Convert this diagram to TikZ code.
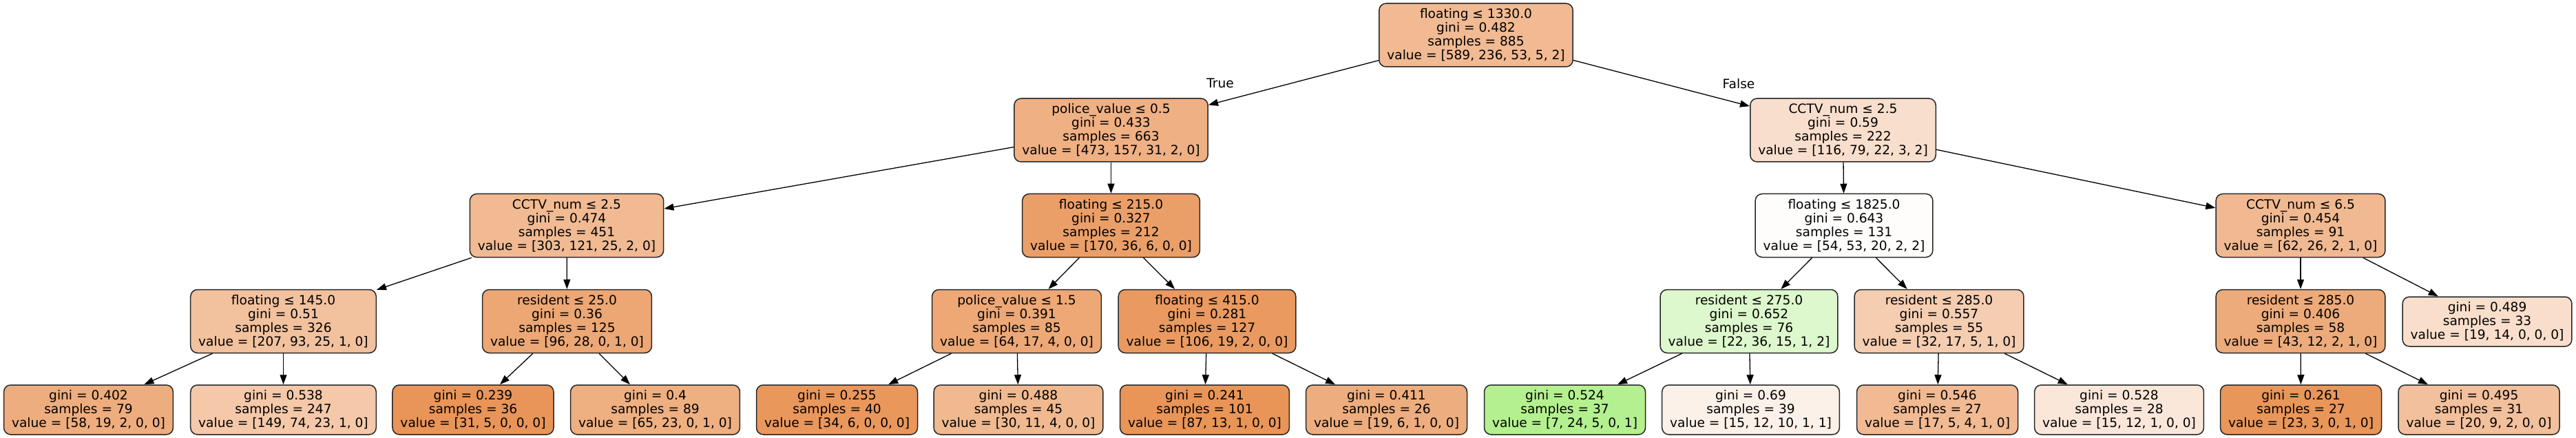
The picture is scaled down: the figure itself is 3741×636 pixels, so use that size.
\documentclass[tikz,border=0pt]{standalone}
\usepackage{fontspec}
\setmainfont{DejaVu Sans}
\usetikzlibrary{arrows.meta}
\newcommand\treefont{\fontsize{18.6}{20}\selectfont}
\definecolor{c0}{RGB}{241,186,147}
\definecolor{c1}{RGB}{239,176,131}
\definecolor{c2}{RGB}{248,222,204}
\definecolor{c3}{RGB}{241,186,146}
\definecolor{c4}{RGB}{235,159,104}
\definecolor{c5}{RGB}{255,253,252}
\definecolor{c6}{RGB}{241,185,145}
\definecolor{c7}{RGB}{242,193,158}
\definecolor{c8}{RGB}{237,167,116}
\definecolor{c9}{RGB}{237,168,118}
\definecolor{c10}{RGB}{234,154,96}
\definecolor{c11}{RGB}{221,248,204}
\definecolor{c12}{RGB}{245,205,177}
\definecolor{c13}{RGB}{237,170,122}
\definecolor{c14}{RGB}{248,222,203}
\definecolor{c15}{RGB}{238,173,126}
\definecolor{c16}{RGB}{244,200,169}
\definecolor{c17}{RGB}{233,149,89}
\definecolor{c18}{RGB}{238,175,129}
\definecolor{c19}{RGB}{234,151,92}
\definecolor{c20}{RGB}{240,185,144}
\definecolor{c21}{RGB}{233,149,88}
\definecolor{c22}{RGB}{238,173,126}
\definecolor{c23}{RGB}{180,240,143}
\definecolor{c24}{RGB}{252,241,233}
\definecolor{c25}{RGB}{241,186,147}
\definecolor{c26}{RGB}{250,231,218}
\definecolor{c27}{RGB}{233,150,90}
\definecolor{c28}{RGB}{242,192,156}
\tikzset{
  tbox/.style={draw=black!85, line width=1.5pt, rounded corners=10pt, align=center,
    inner xsep=11.5pt, inner ysep=0pt, font=\treefont},
  inode/.style={tbox, minimum height=92pt},
  lnode/.style={tbox, minimum height=72pt},
  tedge/.style={draw=black, line width=1.3pt, -{Triangle[length=14pt,width=10pt]}},
  elabel/.style={font=\treefont, inner sep=0pt}
}
\begin{document}
\begin{tikzpicture}[x=1pt,y=-1pt]
\useasboundingbox (0,0) rectangle (3741,636);
% level 1
\node[inode, fill=c0] (n0) at (2143.5,51) {floating ≤ 1330.0\\gini = 0.482\\samples = 885\\value = [589, 236, 53, 5, 2]};
% level 2
\node[inode, fill=c1] (n1) at (1613.5,189) {police\_value ≤ 0.5\\gini = 0.433\\samples = 663\\value = [473, 157, 31, 2, 0]};
\node[inode, fill=c2] (n2) at (2676.5,189) {CCTV\_num ≤ 2.5\\gini = 0.59\\samples = 222\\value = [116, 79, 22, 3, 2]};
% level 3
\node[inode, fill=c3] (n3) at (823,327.5) {CCTV\_num ≤ 2.5\\gini = 0.474\\samples = 451\\value = [303, 121, 25, 2, 0]};
\node[inode, fill=c4] (n4) at (1613.5,327.5) {floating ≤ 215.0\\gini = 0.327\\samples = 212\\value = [170, 36, 6, 0, 0]};
\node[inode, fill=c5] (n5) at (2678,327.5) {floating ≤ 1825.0\\gini = 0.643\\samples = 131\\value = [54, 53, 20, 2, 2]};
\node[inode, fill=c6] (n6) at (3341,327.5) {CCTV\_num ≤ 6.5\\gini = 0.454\\samples = 91\\value = [62, 26, 2, 1, 0]};
% level 4
\node[inode, fill=c7] (n7) at (411.5,466.5) {floating ≤ 145.0\\gini = 0.51\\samples = 326\\value = [207, 93, 25, 1, 0]};
\node[inode, fill=c8] (n8) at (823.5,466.5) {resident ≤ 25.0\\gini = 0.36\\samples = 125\\value = [96, 28, 0, 1, 0]};
\node[inode, fill=c9] (n9) at (1476.5,466.5) {police\_value ≤ 1.5\\gini = 0.391\\samples = 85\\value = [64, 17, 4, 0, 0]};
\node[inode, fill=c10] (n10) at (1753,466.5) {floating ≤ 415.0\\gini = 0.281\\samples = 127\\value = [106, 19, 2, 0, 0]};
\node[inode, fill=c11] (n11) at (2540,466.5) {resident ≤ 275.0\\gini = 0.652\\samples = 76\\value = [22, 36, 15, 1, 2]};
\node[inode, fill=c12] (n12) at (2816,466.5) {resident ≤ 285.0\\gini = 0.557\\samples = 55\\value = [32, 17, 5, 1, 0]};
\node[inode, fill=c13] (n13) at (3341,466.5) {resident ≤ 285.0\\gini = 0.406\\samples = 58\\value = [43, 12, 2, 1, 0]};
\node[lnode, fill=c14] (n14) at (3612,467) {gini = 0.489\\samples = 33\\value = [19, 14, 0, 0, 0]};
% level 5
\node[lnode, fill=c15] (n15) at (128.5,595) {gini = 0.402\\samples = 79\\value = [58, 19, 2, 0, 0]};
\node[lnode, fill=c16] (n16) at (411.5,595) {gini = 0.538\\samples = 247\\value = [149, 74, 23, 1, 0]};
\node[lnode, fill=c17] (n17) at (687,595) {gini = 0.239\\samples = 36\\value = [31, 5, 0, 0, 0]};
\node[lnode, fill=c18] (n18) at (951.5,595) {gini = 0.4\\samples = 89\\value = [65, 23, 0, 1, 0]};
\node[lnode, fill=c19] (n19) at (1215.5,595) {gini = 0.255\\samples = 40\\value = [34, 6, 0, 0, 0]};
\node[lnode, fill=c20] (n20) at (1479,595) {gini = 0.488\\samples = 45\\value = [30, 11, 4, 0, 0]};
\node[lnode, fill=c21] (n21) at (1749.5,595) {gini = 0.241\\samples = 101\\value = [87, 13, 1, 0, 0]};
\node[lnode, fill=c22] (n22) at (2013.5,595) {gini = 0.411\\samples = 26\\value = [19, 6, 1, 0, 0]};
\node[lnode, fill=c23] (n23) at (2272.5,595) {gini = 0.524\\samples = 37\\value = [7, 24, 5, 0, 1]};
\node[lnode, fill=c24] (n24) at (2542.5,595) {gini = 0.69\\samples = 39\\value = [15, 12, 10, 1, 1]};
\node[lnode, fill=c25] (n25) at (2813.5,595) {gini = 0.546\\samples = 27\\value = [17, 5, 4, 1, 0]};
\node[lnode, fill=c26] (n26) at (3077.5,595) {gini = 0.528\\samples = 28\\value = [15, 12, 1, 0, 0]};
\node[lnode, fill=c27] (n27) at (3341.5,595) {gini = 0.261\\samples = 27\\value = [23, 3, 0, 1, 0]};
\node[lnode, fill=c28] (n28) at (3600,595) {gini = 0.495\\samples = 31\\value = [20, 9, 2, 0, 0]};
% edge labels
\node[elabel] (tl) at (1772,121) {True};
\node[elabel] (fl) at (2525,122) {False};
% edges
\draw[tedge] (n0) -- (n1);
\draw[tedge] (n0) -- (n2);
\draw[tedge] (n1) -- (n3);
\draw[tedge] (n1) -- (n4);
\draw[tedge] (n2) -- (n5);
\draw[tedge] (n2) -- (n6);
\draw[tedge] (n3) -- (n7);
\draw[tedge] (n3) -- (n8);
\draw[tedge] (n4) -- (n9);
\draw[tedge] (n4) -- (n10);
\draw[tedge] (n5) -- (n11);
\draw[tedge] (n5) -- (n12);
\draw[tedge] (n6) -- (n13);
\draw[tedge] (n6) -- (n14);
\draw[tedge] (n7) -- (n15);
\draw[tedge] (n7) -- (n16);
\draw[tedge] (n8) -- (n17);
\draw[tedge] (n8) -- (n18);
\draw[tedge] (n9) -- (n19);
\draw[tedge] (n9) -- (n20);
\draw[tedge] (n10) -- (n21);
\draw[tedge] (n10) -- (n22);
\draw[tedge] (n11) -- (n23);
\draw[tedge] (n11) -- (n24);
\draw[tedge] (n12) -- (n25);
\draw[tedge] (n12) -- (n26);
\draw[tedge] (n13) -- (n27);
\draw[tedge] (n13) -- (n28);
\end{tikzpicture}
\end{document}
